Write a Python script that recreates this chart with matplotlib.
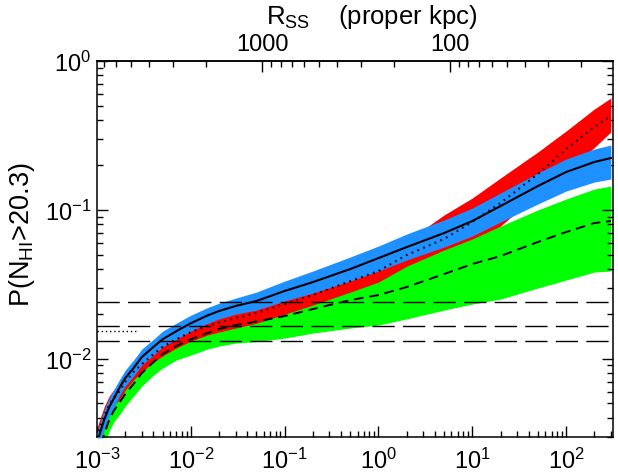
import numpy as np
import matplotlib
matplotlib.use("Agg")
import matplotlib.pyplot as plt
from matplotlib.ticker import LogLocator, NullFormatter

plt.rcParams['font.family'] = ['Liberation Sans', 'DejaVu Sans']
plt.rcParams['mathtext.fontset'] = 'custom'
plt.rcParams['mathtext.rm'] = 'Liberation Sans'
plt.rcParams['mathtext.it'] = 'Liberation Sans:italic'
plt.rcParams['mathtext.default'] = 'regular'

# ---------------- data ----------------
x_vals = [1.0e-3, 1.1e-3, 1.2e-3, 1.35e-3, 1.5e-3, 1.75e-3, 2e-3, 2.5e-3, 3e-3, 4e-3,
          5e-3, 7e-3, 1e-2, 1.5e-2, 2e-2, 3e-2, 5e-2, 0.1, 0.2, 0.5,
          1, 2, 5, 10, 20, 50, 100, 200, 300]

# blue band (solid line centre)
blue_mid = [0.00271, 0.00331, 0.00393, 0.00473, 0.00535, 0.00644, 0.00741, 0.00878, 0.01025, 0.0120,
            0.0135, 0.0153, 0.0173, 0.0195, 0.0209, 0.0226, 0.0244, 0.0285, 0.0327, 0.0400,
            0.0474, 0.0562, 0.0698, 0.0841, 0.1060, 0.1445, 0.1795, 0.2096, 0.2229]
blue_hi = [0.00316, 0.00387, 0.00458, 0.00543, 0.00615, 0.00729, 0.00838, 0.00994, 0.0116, 0.0135,
           0.0153, 0.0173, 0.0196, 0.0220, 0.0236, 0.0255, 0.0280, 0.0332, 0.0388, 0.0482,
           0.0571, 0.0688, 0.0854, 0.1028, 0.1297, 0.1767, 0.2194, 0.2563, 0.2726]
blue_lo = [0.00232, 0.00284, 0.00336, 0.00411, 0.00466, 0.00569, 0.00654, 0.00776, 0.00906, 0.01057,
           0.0120, 0.0135, 0.0153, 0.0172, 0.0185, 0.0199, 0.0212, 0.0244, 0.0276, 0.0332,
           0.0388, 0.0460, 0.0562, 0.0667, 0.0828, 0.1094, 0.1337, 0.1537, 0.1611]

# red band (dotted line centre)
red_mid = [0.00297, 0.00358, 0.00418, 0.00488, 0.00543, 0.00606, 0.00697, 0.00825, 0.00920, 0.01074,
           0.0120, 0.0135, 0.0151, 0.01656, 0.01748, 0.01875, 0.02025, 0.02328, 0.02676, 0.0332,
           0.0388, 0.0497, 0.0637, 0.0830, 0.1111, 0.1740, 0.2563, 0.3601, 0.4270]
red_hi = [0.00342, 0.00411, 0.00480, 0.00561, 0.00615, 0.00686, 0.00788, 0.00934, 0.01041, 0.01215,
          0.0135, 0.0153, 0.01708, 0.01875, 0.0199, 0.02154, 0.02328, 0.02676, 0.03124, 0.0400,
          0.0505, 0.0617, 0.0923, 0.1200, 0.1636, 0.2446, 0.3385, 0.4757, 0.5641]
red_lo = [0.00259, 0.00311, 0.00363, 0.00424, 0.00480, 0.00535, 0.00615, 0.00729, 0.00813, 0.00949,
          0.01041, 0.01178, 0.01313, 0.01441, 0.0151, 0.01606, 0.0173, 0.0199, 0.02292, 0.0280,
          0.0327, 0.0418, 0.0537, 0.0637, 0.0778, 0.1280, 0.1850, 0.2620, 0.3340]

# green band (dashed line centre)
green_mid = [0.00211, 0.00263, 0.00316, 0.00387, 0.00444, 0.00511, 0.00578, 0.00686, 0.00800, 0.00949,
             0.01074, 0.01215, 0.0135, 0.01486, 0.01581, 0.01682, 0.01776, 0.01933, 0.02154, 0.02476,
             0.02676, 0.03029, 0.03703, 0.04323, 0.04892, 0.0608, 0.0709, 0.0815, 0.0841]
green_hi = [0.00247, 0.00307, 0.00369, 0.00451, 0.00519, 0.00596, 0.00675, 0.00800, 0.00934, 0.01107,
            0.01253, 0.01441, 0.01631, 0.01817, 0.0196, 0.0212, 0.02275, 0.0255, 0.02936, 0.03480,
            0.03820, 0.04390, 0.05537, 0.0667, 0.0778, 0.0997, 0.1182, 0.1379, 0.1445]
green_lo = [0.00181, 0.00225, 0.00267, 0.00326, 0.00375, 0.00424, 0.00480, 0.00569, 0.00654, 0.00776,
            0.00865, 0.00979, 0.01057, 0.0116, 0.01215, 0.01273, 0.01303, 0.01375, 0.01486, 0.01606,
            0.01682, 0.0185, 0.0212, 0.02328, 0.02515, 0.02982, 0.03375, 0.03820, 0.0388]

hlines = [0.0240, 0.0165, 0.0131]
short_dot_y = 0.0153
short_dot_x = [1.0e-3, 2.7e-3]

top_ticks = [1000, 100]
top_labels = ['1000', '100']
R_CONST = 5.8e4  # X = R_CONST / R^2

xlim = (1e-3, 10 ** 2.5)
ylim = (3e-3, 1.0)

# ---------------- figure ----------------
fig = plt.figure(figsize=(6.18, 4.77), dpi=100)
ax = fig.add_axes([97 / 618, 1 - 437.5 / 477, 516 / 618, 375.5 / 477])
ax.set_xscale('log')
ax.set_yscale('log')

ax.fill_between(x_vals, green_lo, green_hi, color='#00ff00', lw=0, zorder=1)
ax.fill_between(x_vals, red_lo, red_hi, color='#ff0000', lw=0, zorder=2)
ax.fill_between(x_vals, blue_lo, blue_hi, color='#1e90ff', lw=0, zorder=3)

ax.plot(x_vals, green_mid, color='k', lw=1.4, dashes=(5, 3), zorder=5)
ax.plot(x_vals, red_mid, color='k', lw=1.5, linestyle=(0, (0.8, 2.2)), zorder=5)
ax.plot(x_vals, blue_mid, color='k', lw=1.5, zorder=5)

for h in hlines:
    ax.axhline(h, color='k', lw=1.0, dashes=(16, 6), zorder=6)
ax.plot(short_dot_x, [short_dot_y, short_dot_y], color='k', lw=1.0,
        linestyle=(0, (1, 2)), zorder=6)

ax.set_xlim(*xlim)
ax.set_ylim(*ylim)

for s in ax.spines.values():
    s.set_linewidth(1.1)

ax.xaxis.set_major_locator(LogLocator(base=10, numticks=20))
ax.xaxis.set_minor_locator(LogLocator(base=10, subs=np.arange(2, 10), numticks=20))
ax.yaxis.set_major_locator(LogLocator(base=10, numticks=20))
ax.yaxis.set_minor_locator(LogLocator(base=10, subs=np.arange(2, 10), numticks=20))

ax.tick_params(which='both', direction='in', top=False, right=True, labelsize=17, width=1.0)
ax.tick_params(which='major', length=8, pad=8)
ax.tick_params(which='minor', length=4.5)
ax.tick_params(axis='y', which='major', pad=4)

fig.text(22 / 618, 1 - 235 / 477, 'P(N$_{HI}$>20.3)', fontsize=19.5, rotation=90,
         ha='center', va='center')


def fwd(x):
    x = np.asarray(x, dtype=float)
    return np.sqrt(R_CONST / np.clip(x, 1e-12, None))


def inv(r):
    r = np.asarray(r, dtype=float)
    return R_CONST / np.clip(r, 1e-12, None) ** 2


sec = ax.secondary_xaxis('top', functions=(fwd, inv))
sec.set_xticks(top_ticks, top_labels)
sec.xaxis.set_minor_locator(LogLocator(base=10, subs=np.arange(2, 10), numticks=20))
sec.xaxis.set_minor_formatter(NullFormatter())
sec.tick_params(which='both', direction='in', labelsize=17, width=1.0)
sec.tick_params(which='major', length=8, pad=4)
sec.tick_params(which='minor', length=4.5)
sec.spines['top'].set_linewidth(1.1)

fig.text(372 / 618, 1 - 17 / 477, 'R$_{SS}$    (proper kpc)', fontsize=18.5,
         ha='center', va='center')

fig.savefig('out.png', dpi=100)
